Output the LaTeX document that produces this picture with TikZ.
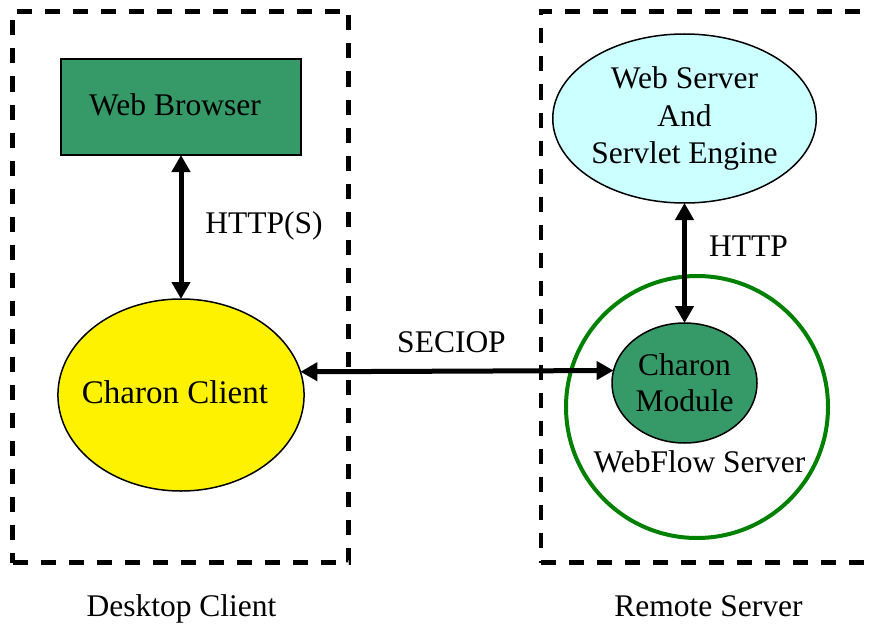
\documentclass[tikz,border=0pt]{standalone}
\usepackage{fontspec}
\setmainfont{Liberation Serif}
\usetikzlibrary{arrows.meta,shapes.geometric}
\definecolor{seagreen}{HTML}{359968}
\definecolor{paleblue}{HTML}{CCFFFF}
\definecolor{ringgreen}{HTML}{008000}
\begin{document}
\begin{tikzpicture}[x=1pt,y=-1pt,
  every node/.style={font=\fontsize{31.5}{37.5}\selectfont, inner sep=0pt, outer sep=0pt},
  zone/.style={draw, line width=4.5pt, dash pattern=on 15pt off 13pt},
  boxline/.style={draw, line width=1.5pt},
  link/.style={line width=5pt, {Triangle[length=17pt,width=18pt]}-{Triangle[length=17pt,width=18pt]}},
  tag/.style={anchor=base}]
\useasboundingbox (0,0) rectangle (870,626);
% zones
\node[zone, minimum width=336pt, minimum height=551pt] (desk) at (180.5,287) {};
\node[zone, minimum width=360pt, minimum height=551pt] (remote) at (721,287) {};
% nodes
\node[boxline, fill=seagreen, minimum width=240pt, minimum height=96pt] (wb) at (181,107) {\hspace*{-12pt}\raisebox{4pt}{Web Browser}};
\node[boxline, ellipse, fill=yellow, minimum width=240pt, minimum height=192pt] (cc) at (181,395) {\hspace*{-12pt}\raisebox{5pt}{\fontsize{33}{37.5}\selectfont Charon Client}};
\node[boxline, ellipse, fill=paleblue, minimum width=241pt, minimum height=169pt, align=center] (ws) at (684.5,118.5) {Web Server\\And\\Servlet Engine};
\node[circle, draw=ringgreen, line width=4pt, minimum size=262pt] (ring) at (697,407) {};
\node[boxline, ellipse, fill=seagreen, minimum width=145pt, minimum height=120pt, align=center, font=\fontsize{31.5}{36}\selectfont] (cm) at (684.5,383) {Charon\\Module};
% connectors
\draw[link] (wb.south) -- (cc.north);
\draw[link] (ws.south) -- (cm.north);
\draw[link] (cc.11.7) -- (cm.170.4);
% labels
\node[tag] (lhttps) at (264,233) {HTTP(S)};
\node[tag] (lhttp) at (748.5,256) {HTTP};
\node[tag] (lsec) at (451.5,352) {SECIOP};
\node[tag] (lwf) at (699.5,472) {WebFlow Server};
\node[tag] (ldesk) at (181.5,616) {Desktop Client};
\node[tag] (lrem) at (708.5,616) {Remote Server};
\end{tikzpicture}
\end{document}
